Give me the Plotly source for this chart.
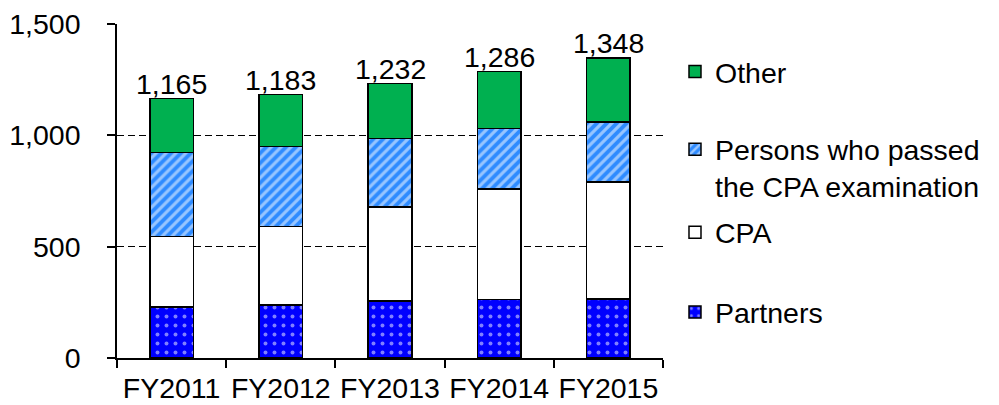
import plotly.graph_objects as go

categories = ["FY2011", "FY2012", "FY2013", "FY2014", "FY2015"]
partners = [230, 238, 257, 263, 265]
cpa = [315, 352, 422, 497, 525]
passed = [377, 359, 307, 271, 271]
other = [243, 234, 246, 255, 287]
totals = [1165, 1183, 1232, 1286, 1348]
y_ticks = [0, 500, 1000, 1500]

FONT = "Liberation Sans, Arial, sans-serif"
FS = 28.5

fig = go.Figure()
line = dict(color="black", width=1.5)
fig.add_trace(go.Bar(x=categories, y=partners, name="Partners", legend="legend5",
                     marker=dict(color="#0000FF", line=line,
                                 pattern=dict(shape=".", fgcolor="white", bgcolor="#0000FF",
                                              size=9, solidity=0.15, fillmode="overlay"))))
fig.add_trace(go.Bar(x=categories, y=cpa, name="CPA", legend="legend4",
                     marker=dict(color="white", line=line)))
fig.add_trace(go.Bar(x=categories, y=passed, name="Persons who passed<br>the CPA examination",
                     legend="legend3",
                     marker=dict(color="#2E8BFF", line=line,
                                 pattern=dict(shape="/", fgcolor="white", bgcolor="#2E8BFF",
                                              size=7, solidity=0.45, fillmode="overlay"))))
fig.add_trace(go.Bar(x=categories, y=other, name="Other", legend="legend2",
                     marker=dict(color="#00B050", line=line)))

for c, t in zip(categories, totals):
    fig.add_annotation(x=c, y=t, xref="x", yref="y", text=f"{t:,}", showarrow=False,
                       yanchor="bottom", yshift=-3,
                       font=dict(family=FONT, size=FS, color="black"))

W, H = 999, 405
plot_left, plot_right, plot_top, plot_bottom = 116.7, 663, 24, 358.5
L = plot_left
T = plot_top
R = W - plot_right
B = H - plot_bottom
pw = plot_right - plot_left
ph = plot_bottom - plot_top

def px_to_paper_y(py):
    return (plot_bottom - py) / ph

def px_to_paper_x(px):
    return (px - plot_left) / pw

leg_common = dict(font=dict(family=FONT, size=FS, color="black"), bgcolor="rgba(0,0,0,0)",
                  xanchor="left", yanchor="middle", valign="top", itemwidth=30)
lx = px_to_paper_x(675)
fig.update_layout(
    legend2=dict(x=lx, y=px_to_paper_y(72), **leg_common),
    legend3=dict(x=lx, y=px_to_paper_y(168.5), **leg_common),
    legend4=dict(x=lx, y=px_to_paper_y(233), **leg_common),
    legend5=dict(x=lx, y=px_to_paper_y(313), **leg_common),
)

fig.update_layout(
    template="none",
    barmode="stack",
    bargap=0.6,
    width=W, height=H,
    margin=dict(l=L, r=R, t=T, b=B, pad=0, autoexpand=False),
    plot_bgcolor="white", paper_bgcolor="white",
    font=dict(family=FONT, size=FS, color="black"),
    xaxis=dict(showline=True, linecolor="black", linewidth=1.5, ticks="outside",
               tickson="boundaries", ticklen=8, tickcolor="black", tickwidth=1.5,
               tickangle=0, showgrid=False, automargin=False, ticklabelstandoff=4,
               tickfont=dict(family=FONT, size=FS)),
    yaxis=dict(range=[0, 1500], tickvals=y_ticks, ticktext=[f"{v:,}" for v in y_ticks],
               showline=True, linecolor="black", linewidth=1.5, ticks="outside",
               ticklen=8, tickcolor="black", tickwidth=1.5,
               showgrid=True, gridcolor="black", griddash="7px,4px", gridwidth=1.3,
               zeroline=False, automargin=False, tickfont=dict(family=FONT, size=FS),
               ticklabelstandoff=21),
)

fig.write_html(
    "out.html",
    config={"displayModeBar": False},
    post_script="document.body.style.margin='0';document.body.style.overflow='hidden';",
)
